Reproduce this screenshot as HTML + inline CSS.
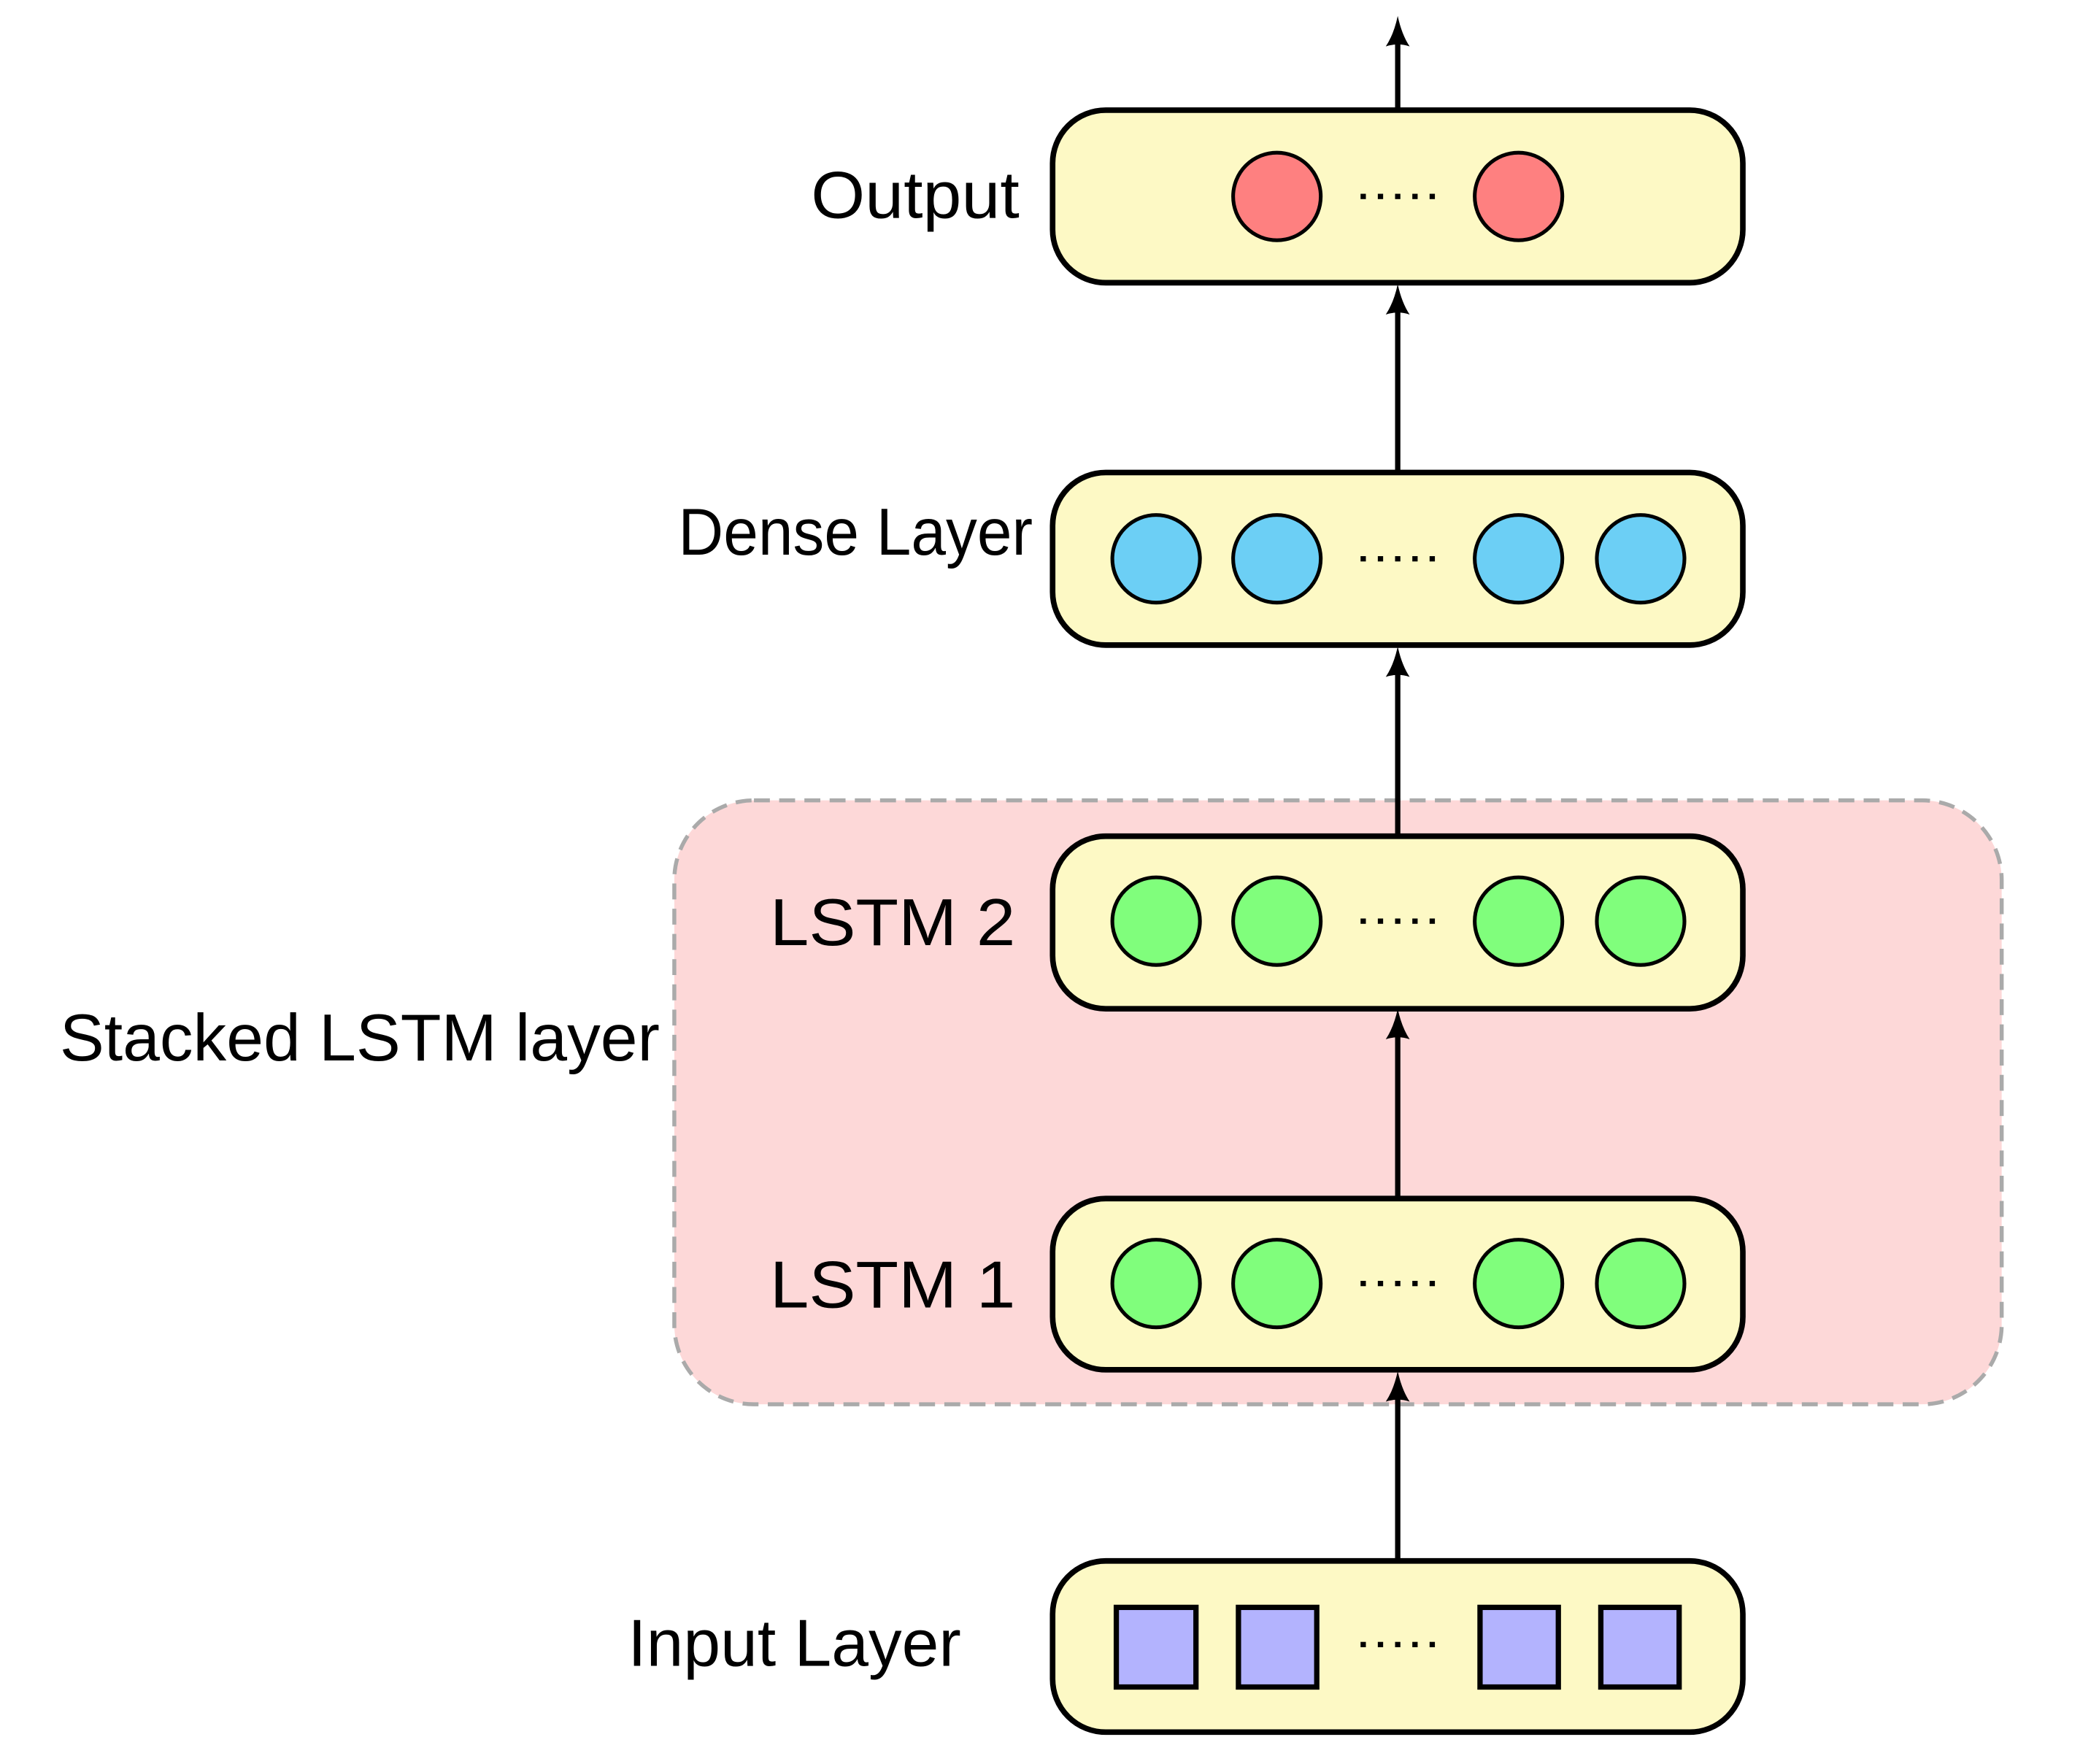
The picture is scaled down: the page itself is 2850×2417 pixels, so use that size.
<!DOCTYPE html>
<html><head><style>html,body{margin:0;padding:0;background:#fff}svg{display:block}</style></head>
<body>
<svg width="2850" height="2417" viewBox="0 0 1567 1329" preserveAspectRatio="none" xmlns="http://www.w3.org/2000/svg">
<defs>
<path id="ah" d="M0,0 Q3,14 9,23 Q0,20 -9,23 Q-3,14 0,0Z" fill="#000"/>
</defs>
<rect x="508" y="603" width="1000" height="455" rx="60" fill="#fdd8d8" stroke="#aaa" stroke-width="3" stroke-dasharray="12,7"/>
<g stroke="#000" stroke-width="4" fill="none">
<line x1="1053" y1="83" x2="1053" y2="30"/>
<line x1="1053" y1="356" x2="1053" y2="230"/>
<line x1="1053" y1="630" x2="1053" y2="503"/>
<line x1="1053" y1="903" x2="1053" y2="776"/>
<line x1="1053" y1="1176" x2="1053" y2="1049"/>
</g>
<use href="#ah" x="1053" y="12"/>
<use href="#ah" x="1053" y="214"/>
<use href="#ah" x="1053" y="487"/>
<use href="#ah" x="1053" y="760"/>
<use href="#ah" x="1053" y="1033"/>
<g fill="#fdf9c5" stroke="#000" stroke-width="4.2">
<rect x="793" y="83" width="520" height="130" rx="40"/>
<rect x="793" y="356" width="520" height="130" rx="40"/>
<rect x="793" y="630" width="520" height="130" rx="40"/>
<rect x="793" y="903" width="520" height="129" rx="40"/>
<rect x="793" y="1176" width="520" height="129" rx="40"/>
</g>
<g stroke="#000" stroke-width="2.8">
<g fill="#fe8080"><circle cx="962" cy="148" r="33"/><circle cx="1144" cy="148" r="33"/></g>
<g fill="#6ccff5"><circle cx="871" cy="421" r="33"/><circle cx="962" cy="421" r="33"/><circle cx="1144" cy="421" r="33"/><circle cx="1236" cy="421" r="33"/></g>
<g fill="#80fe7c"><circle cx="871" cy="694" r="33"/><circle cx="962" cy="694" r="33"/><circle cx="1144" cy="694" r="33"/><circle cx="1236" cy="694" r="33"/>
<circle cx="871" cy="967" r="33"/><circle cx="962" cy="967" r="33"/><circle cx="1144" cy="967" r="33"/><circle cx="1236" cy="967" r="33"/></g>
</g>
<g fill="#b3b3fe" stroke="#000" stroke-width="4">
<rect x="841" y="1211" width="60" height="60"/><rect x="933" y="1211" width="59" height="60"/>
<rect x="1115" y="1211" width="59" height="60"/><rect x="1206" y="1211" width="59" height="60"/>
</g>
<g fill="#000">
<g id="d"><rect x="1025" y="146" width="4" height="4"/><rect x="1038" y="146" width="4" height="4"/><rect x="1051" y="146" width="4" height="4"/><rect x="1064" y="146" width="4" height="4"/><rect x="1077" y="146" width="4" height="4"/></g>
<use href="#d" y="273"/><use href="#d" y="546"/><use href="#d" y="819"/><use href="#d" y="1091"/>
</g>
<g font-family="Liberation Sans, sans-serif" font-size="50" fill="#000">
<text x="611" y="164" textLength="157" lengthAdjust="spacingAndGlyphs">Output</text>
<text x="511" y="418" textLength="267" lengthAdjust="spacingAndGlyphs">Dense Layer</text>
<text x="580" y="712" textLength="185" lengthAdjust="spacingAndGlyphs">LSTM 2</text>
<text x="45" y="799" textLength="452" lengthAdjust="spacingAndGlyphs">Stacked LSTM layer</text>
<text x="580" y="985" textLength="185" lengthAdjust="spacingAndGlyphs">LSTM 1</text>
<text x="473" y="1255" textLength="251" lengthAdjust="spacingAndGlyphs">Input Layer</text>
</g>
</svg>
</body></html>
